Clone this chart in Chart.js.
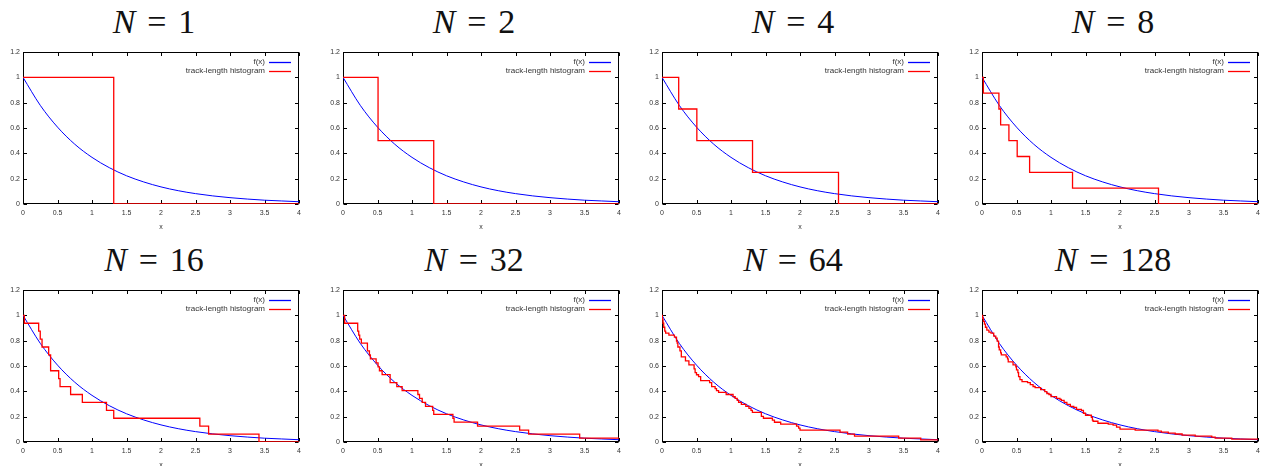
<!DOCTYPE html>
<html>
<head>
<title>Track-length histogram vs f(x)</title>
<script src="https://cdn.jsdelivr.net/npm/chart.js@4"></script>
<style>
  body {
    margin: 0;
    background: #fff;
    width: 1265px;
    height: 466px;
    overflow: hidden;
    position: relative;
  }
  canvas { position: absolute; }
  .title {
    position: absolute;
    width: 220px;
    text-align: center;
    font-family: 'Liberation Serif', serif;
    font-size: 34px;
    line-height: 34px;
    color: #111;
    white-space: nowrap;
  }
  .title .eq { margin: 0 0.35em; }
</style>
</head>
<body>
<script>
// --- data ---
const PANEL_N = [1, 2, 4, 8, 16, 32, 64, 128];

// x ticks / y ticks
const X_TICKS = [0, 0.5, 1, 1.5, 2, 2.5, 3, 3.5, 4];
const X_LABELS = ['0', '0.5', '1', '1.5', '2', '2.5', '3', '3.5', '4'];
const Y_TICKS = [0, 0.2, 0.4, 0.6, 0.8, 1, 1.2];
const Y_LABELS = ['0', '0.2', '0.4', '0.6', '0.8', '1', '1.2'];

// f(x) curve
const FX_X = [0, 0.25, 0.5, 0.75, 1, 1.25, 1.5, 1.75, 2, 2.25, 2.5, 2.75, 3, 3.25, 3.5, 3.75, 4];
const FX_Y = [1, 0.779, 0.607, 0.472, 0.368, 0.287, 0.223, 0.174, 0.135, 0.105, 0.082, 0.064, 0.050, 0.039, 0.030, 0.024, 0.018];

// histogram steps: jump position, level after the jump
const N1_X = [0, 1.315, 4];
const N1_Y = [1, 0, 0];

const N2_X = [0, 0.508, 1.315, 4];
const N2_Y = [1, 0.5, 0, 0];

const N4_X = [0, 0.242, 0.505, 1.312, 2.558, 4];
const N4_Y = [1, 0.75, 0.5, 0.25, 0, 0];

const N8_X = [0, 0.02, 0.245, 0.27, 0.39, 0.51, 0.69, 1.312, 2.558, 4];
const N8_Y = [1, 0.875, 0.75, 0.625, 0.5, 0.375, 0.25, 0.125, 0, 0];

const N16_X = [0, 0.02, 0.227, 0.25, 0.276, 0.372, 0.40, 0.517, 0.537, 0.69, 0.86, 1.21, 1.315, 2.563, 2.69, 3.42, 4];
const N16_Y = [1, 0.9375, 0.875, 0.8125, 0.75, 0.6875, 0.5625, 0.5, 0.4375, 0.375, 0.3125, 0.25, 0.1875, 0.125, 0.0625, 0, 0];

const N32_X = [0, 0.024, 0.213, 0.228, 0.242, 0.266, 0.354, 0.383, 0.397, 0.48, 0.508, 0.528, 0.567, 0.683, 0.78, 0.857,
  1.085, 1.109, 1.148, 1.196, 1.30, 1.315, 1.593, 1.61, 1.95, 2.56, 2.69, 3.43, 4];
const N32_Y = [1, 0.9375, 0.875, 0.84375, 0.8125, 0.78125, 0.71875, 0.6875, 0.65625, 0.625, 0.59375, 0.5625, 0.53125, 0.46875, 0.4375, 0.40625,
  0.375, 0.34375, 0.3125, 0.28125, 0.25, 0.21875, 0.1875, 0.15625, 0.125, 0.09375, 0.0625, 0.03125, 0.03125];

const N64_X = [0, 0.005, 0.015, 0.025, 0.04, 0.053, 0.10, 0.18, 0.21, 0.22, 0.23, 0.26, 0.28, 0.34, 0.39, 0.465, 0.48, 0.50, 0.53, 0.56,
  0.69, 0.72, 0.77, 0.79, 0.82, 0.93, 1.03, 1.06, 1.09, 1.11, 1.15, 1.215, 1.26, 1.29, 1.31, 1.44, 1.47, 1.60, 1.63, 1.72,
  1.95, 1.98, 2.0, 2.58, 2.69, 2.79, 3.43, 3.75, 4];
const N64_Y = [1, 0.969, 0.9375, 0.906, 0.875, 0.859, 0.844, 0.828, 0.797, 0.781, 0.75, 0.719, 0.672, 0.641, 0.609, 0.578, 0.547, 0.531, 0.516, 0.484,
  0.469, 0.4375, 0.422, 0.406, 0.391, 0.375, 0.359, 0.344, 0.328, 0.3125, 0.297, 0.281, 0.266, 0.25, 0.234, 0.203, 0.1875, 0.172, 0.156, 0.141,
  0.125, 0.109, 0.094, 0.078, 0.0625, 0.047, 0.031, 0.016, 0.016];

const N128_X = [0, 0.01, 0.02, 0.035, 0.05, 0.07, 0.10, 0.13, 0.17, 0.20, 0.22, 0.24, 0.25, 0.27, 0.28, 0.35, 0.37, 0.38, 0.45, 0.49,
  0.50, 0.52, 0.53, 0.55, 0.58, 0.66, 0.70, 0.74, 0.77, 0.85, 0.91, 0.94, 0.97, 1.0, 1.08, 1.13, 1.15, 1.19, 1.23, 1.28,
  1.33, 1.37, 1.44, 1.47, 1.50, 1.585, 1.60, 1.61, 1.68, 1.83, 1.90, 1.95, 2.0, 2.22, 2.55, 2.6, 2.7, 2.8, 2.9, 3.09,
  3.33, 3.38, 3.62, 4];
const N128_Y = [1, 0.977, 0.953, 0.93, 0.906, 0.883, 0.867, 0.859, 0.836, 0.82, 0.797, 0.75, 0.727, 0.703, 0.688, 0.672, 0.656, 0.633, 0.609, 0.594,
  0.57, 0.547, 0.516, 0.492, 0.477, 0.469, 0.453, 0.438, 0.43, 0.414, 0.398, 0.383, 0.375, 0.359, 0.344, 0.336, 0.328, 0.313, 0.297, 0.281,
  0.273, 0.258, 0.25, 0.227, 0.211, 0.195, 0.172, 0.164, 0.148, 0.141, 0.133, 0.117, 0.102, 0.094, 0.086, 0.078, 0.07, 0.063, 0.055, 0.047,
  0.039, 0.031, 0.023, 0.023];

const HIST_X = [N1_X, N2_X, N4_X, N8_X, N16_X, N32_X, N64_X, N128_X];
const HIST_Y = [N1_Y, N2_Y, N4_Y, N8_Y, N16_Y, N32_Y, N64_Y, N128_Y];

// --- layout ---
const PANEL_PITCH = 319.7;
const ROW_TOP = [40, 278];
const CANVAS_W = 306, CANVAS_H = 192;
const SANS = "'Liberation Sans', Arial, sans-serif";
const TICK_FONT = { family: SANS, size: 7 };
const KEY_FONT_SIZE = 8;
const TEXT_COLOR = '#333';

// frame + inside tick marks (gnuplot style), drawn under the data
const framePlugin = {
  id: 'frame',
  beforeDatasetsDraw(chart) {
    const { ctx, chartArea: a, scales } = chart;
    const L = Math.round(a.left) + 0.5, R = Math.round(a.right) - 0.5;
    const T = Math.round(a.top) + 0.5, B = Math.round(a.bottom) - 0.5;
    const tl = 3.5;
    ctx.save();
    ctx.strokeStyle = '#000';
    ctx.lineWidth = 1;
    ctx.beginPath();
    X_TICKS.forEach(v => {
      const px = Math.round(scales.x.getPixelForValue(v)) + 0.5;
      ctx.moveTo(px, B); ctx.lineTo(px, B - tl);
      ctx.moveTo(px, T); ctx.lineTo(px, T + tl);
    });
    Y_TICKS.forEach(v => {
      const py = Math.round(scales.y.getPixelForValue(v)) + 0.5;
      ctx.moveTo(L, py); ctx.lineTo(L + tl, py);
      ctx.moveTo(R, py); ctx.lineTo(R - tl, py);
    });
    ctx.stroke();
    ctx.strokeRect(L, T, R - L, B - T);
    ctx.restore();
  },
  afterDraw(chart) {
    // key in the top right corner: text, then line sample
    const { ctx, chartArea: a } = chart;
    const items = [['f(x)', '#0000ff'], ['track-length histogram', '#ff0000']];
    ctx.save();
    ctx.font = `${KEY_FONT_SIZE}px ${SANS}`;
    ctx.textAlign = 'right';
    ctx.textBaseline = 'middle';
    items.forEach(([txt, col], i) => {
      const y = a.top + 10 + i * 8.5;
      ctx.fillStyle = TEXT_COLOR;
      ctx.fillText(txt, a.right - 34, y);
      ctx.strokeStyle = col;
      ctx.lineWidth = 1.3;
      ctx.beginPath();
      ctx.moveTo(a.right - 30, Math.round(y) + 0.5);
      ctx.lineTo(a.right - 8, Math.round(y) + 0.5);
      ctx.stroke();
    });
    ctx.restore();
  }
};

PANEL_N.forEach((n, k) => {
  const col = k % 4, row = Math.floor(k / 4);
  const left = Math.round(col * PANEL_PITCH);
  const top = ROW_TOP[row];

  const title = document.createElement('div');
  title.className = 'title';
  title.innerHTML = `<i>N</i><span class="eq">=</span>${n}`;
  title.style.left = (left + 23 + 138 - 7 - 110) + 'px';
  title.style.top = (top - 35.5) + 'px';
  document.body.appendChild(title);

  const canvas = document.createElement('canvas');
  canvas.width = CANVAS_W;
  canvas.height = CANVAS_H;
  canvas.style.left = left + 'px';
  canvas.style.top = top + 'px';
  document.body.appendChild(canvas);

  const hist = HIST_X[k].map((x, i) => ({ x, y: HIST_Y[k][i] }));
  const curve = FX_X.map((x, i) => ({ x, y: FX_Y[i] }));

  new Chart(canvas, {
    type: 'line',
    data: {
      datasets: [
        {
          label: 'track-length histogram',
          data: hist,
          stepped: 'before',
          borderColor: '#ff0000',
          borderWidth: 1.3,
          pointRadius: 0,
          fill: false
        },
        {
          label: 'f(x)',
          data: curve,
          borderColor: '#0000ff',
          borderWidth: 1,
          pointRadius: 0,
          cubicInterpolationMode: 'monotone',
          fill: false
        }
      ]
    },
    options: {
      responsive: false,
      animation: false,
      events: [],
      layout: { padding: { top: 12, right: CANVAS_W - 299, left: 0, bottom: 0 } },
      plugins: {
        legend: { display: false },
        tooltip: { enabled: false }
      },
      scales: {
        x: {
          type: 'linear',
          min: 0,
          max: 4,
          afterBuildTicks: s => { s.ticks = X_TICKS.map(v => ({ value: v })); },
          afterFit: s => { s.height = 28; },
          grid: { display: false, drawTicks: false },
          border: { display: false },
          ticks: {
            padding: 5,
            autoSkip: false,
            maxRotation: 0,
            font: TICK_FONT,
            color: TEXT_COLOR,
            callback: (v, i) => X_LABELS[i]
          },
          title: {
            display: true,
            text: 'x',
            font: TICK_FONT,
            color: TEXT_COLOR,
            padding: { top: 0, bottom: 1 }
          }
        },
        y: {
          min: 0,
          max: 1.2,
          afterBuildTicks: s => { s.ticks = Y_TICKS.map(v => ({ value: v })); },
          afterFit: s => { s.width = 23; },
          grid: { display: false, drawTicks: false },
          border: { display: false },
          ticks: {
            padding: 3,
            font: TICK_FONT,
            color: TEXT_COLOR,
            callback: (v, i) => Y_LABELS[i]
          }
        }
      }
    },
    plugins: [framePlugin]
  });
});
</script>
</body>
</html>
